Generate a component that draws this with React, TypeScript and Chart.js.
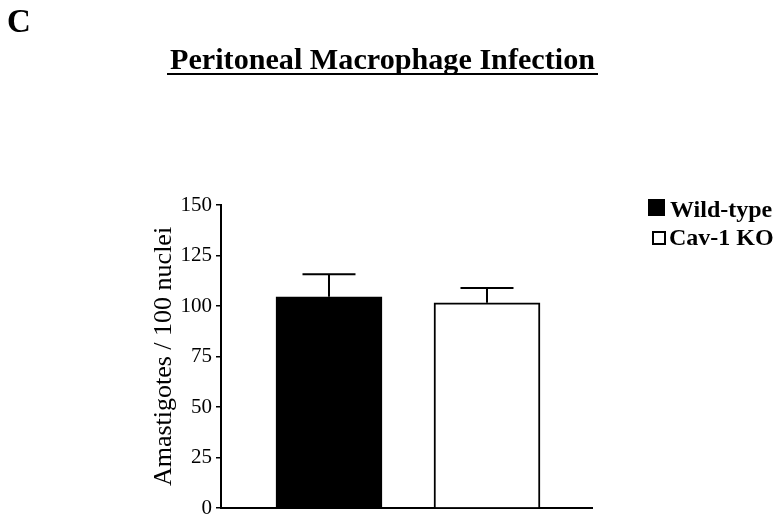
import React, { useEffect, useRef } from 'react';
import { Chart, registerables } from 'chart.js';

Chart.register(...registerables);

// ---- data ----
const categories = ['Wild-type', 'Cav-1 KO'];
const means = [104.6, 101.6];
const sem = [11.1, 7.3];
const fills = ['#000000', '#ffffff'];
const yTicks = [0, 25, 50, 75, 100, 125, 150];
const titleText = 'Peritoneal Macrophage Infection';
const panelLabel = 'C';
const yAxisLabel = 'Amastigotes / 100 nuclei';

const SERIF = '"Liberation Serif", "Times New Roman", serif';

const decor = {
  id: 'decor',
  afterDatasetsDraw(chart: any) {
    const { ctx } = chart;
    const y = chart.scales.y;
    const meta = chart.getDatasetMeta(0);
    ctx.save();
    ctx.strokeStyle = '#000';
    ctx.lineWidth = 2;
    meta.data.forEach((el: any, i: number) => {
      const top = y.getPixelForValue(means[i] + sem[i]);
      const half = el.width / 4;
      ctx.beginPath();
      ctx.moveTo(el.x, el.y);
      ctx.lineTo(el.x, top);
      ctx.moveTo(el.x - half, top);
      ctx.lineTo(el.x + half, top);
      ctx.stroke();
    });
    ctx.restore();
  },
  afterDraw(chart: any) {
    const { ctx } = chart;
    ctx.save();
    ctx.fillStyle = '#000';
    ctx.textBaseline = 'alphabetic';
    ctx.textAlign = 'left';
    // panel label
    ctx.font = `bold 33px ${SERIF}`;
    ctx.fillText(panelLabel, 7, 32);
    // title (stretched to match reference width) + underline
    ctx.font = `bold 28px ${SERIF}`;
    const w = ctx.measureText(titleText).width;
    const target = 425;
    ctx.save();
    ctx.translate(170, 69);
    ctx.scale(target / w, 1.05);
    ctx.fillText(titleText, 0, 0);
    ctx.restore();
    ctx.fillRect(167, 73, 431, 2);
    // legend
    ctx.font = `bold 24px ${SERIF}`;
    ctx.fillStyle = fills[0];
    ctx.fillRect(648, 199, 17, 17);
    ctx.fillStyle = '#000';
    ctx.fillText(categories[0], 670, 217);
    ctx.fillStyle = fills[1];
    ctx.fillRect(653, 232, 12, 12);
    ctx.strokeStyle = '#000';
    ctx.lineWidth = 2;
    ctx.strokeRect(653, 232, 12, 12);
    ctx.fillStyle = '#000';
    ctx.fillText(categories[1], 669, 245);
    ctx.restore();
  },
};

export default function App() {
  const ref = useRef<HTMLCanvasElement | null>(null);
  useEffect(() => {
    if (!ref.current) return;
    const chart = new Chart(ref.current, {
      type: 'bar',
      data: {
        datasets: [
          {
            label: 'Amastigotes',
            data: means.map((v, i) => ({ x: i + 1, y: v })),
            backgroundColor: fills,
            borderColor: '#000',
            borderWidth: 2,
            barThickness: 106,
          } as any,
        ],
      },
      options: {
        responsive: false,
        animation: false,
        events: [],
        layout: { padding: { left: 149, top: 205, right: 187, bottom: 17 } },
        plugins: {
          legend: { display: false },
          tooltip: { enabled: false },
          title: { display: false },
        },
        scales: {
          x: {
            type: 'linear',
            offset: false,
            min: 0.3165,
            max: 2.6646,
            grid: { display: false, offset: false },
            ticks: { display: false },
            border: { display: true, color: '#000', width: 2 },
            afterFit: (s: any) => {
              s.height = 0;
            },
          },
          y: {
            min: 0,
            max: 150,
            afterBuildTicks: (s: any) => {
              s.ticks = yTicks.map((v) => ({ value: v }));
            },
            grid: {
              display: true,
              drawOnChartArea: false,
              drawTicks: true,
              tickLength: 5,
              color: '#000',
              lineWidth: 1.5,
            },
            border: { display: true, color: '#000', width: 2 },
            ticks: {
              color: '#000',
              padding: 4,
              font: { family: SERIF, size: 21 },
            },
            title: {
              display: true,
              text: yAxisLabel,
              color: '#000',
              padding: { top: 0, bottom: 0 },
              font: { family: SERIF, size: 26 },
            },
            afterFit: (s: any) => {
              s.width = 72;
            },
          },
        },
      },
      plugins: [decor],
    });
    return () => chart.destroy();
  }, []);
  return (
    <div style={{ position: 'fixed', left: 0, top: 0, width: 779, height: 525, background: '#fff' }}>
      <canvas ref={ref} width={779} height={525} />
    </div>
  );
}
